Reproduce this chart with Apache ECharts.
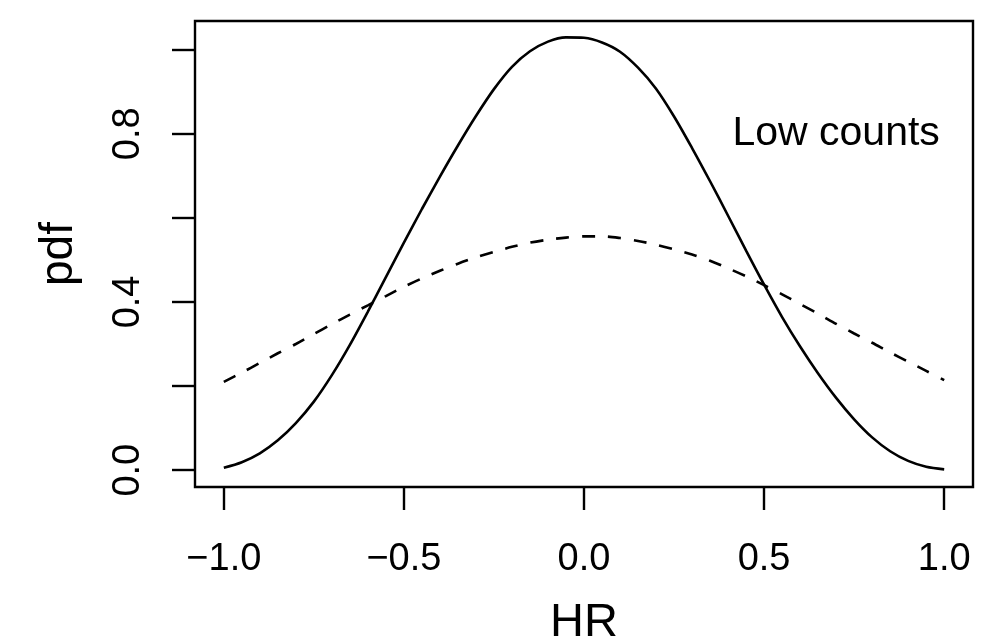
<!DOCTYPE html>
<html>
<head>
<meta charset="utf-8">
<script src="https://cdn.jsdelivr.net/npm/echarts@6/dist/echarts.min.js"></script>
<style>
html,body{margin:0;padding:0;background:#fff;}
#main{width:1004px;height:643px;}
</style>
</head>
<body>
<div id="main"></div>
<script>
// HR grid values (x)
var hrValues = [-1.00,-0.95,-0.90,-0.85,-0.80,-0.75,-0.70,-0.65,-0.60,-0.55,-0.50,-0.45,-0.40,-0.35,-0.30,-0.25,-0.20,-0.15,-0.10,-0.05,
                0.00,0.05,0.10,0.15,0.20,0.25,0.30,0.35,0.40,0.45,0.50,0.55,0.60,0.65,0.70,0.75,0.80,0.85,0.90,0.95,1.00];
// solid curve (pdf)
var solidPdf = [0.006,0.019,0.040,0.071,0.112,0.163,0.226,0.298,0.377,0.459,0.541,0.621,0.698,0.772,0.842,0.906,0.959,0.996,1.019,1.029,
                1.028,1.017,0.995,0.957,0.907,0.841,0.766,0.687,0.605,0.522,0.441,0.364,0.294,0.230,0.172,0.121,0.078,0.045,0.022,0.008,0.002];
// dashed curve (pdf)
var dashedPdf = [0.210,0.232,0.255,0.278,0.300,0.324,0.347,0.370,0.392,0.414,0.436,0.456,0.474,0.491,0.506,0.519,0.531,0.541,0.548,0.553,
                 0.556,0.556,0.552,0.545,0.536,0.525,0.513,0.498,0.480,0.461,0.440,0.418,0.395,0.372,0.348,0.325,0.303,0.280,0.258,0.236,0.214];
// ticks
var xTicks = [-1.0,-0.5,0.0,0.5,1.0];
var yTicks = [0.0,0.2,0.4,0.6,0.8,1.0];
var yLabels = [0.0,0.4,0.8];
var annotation = {x:0.7, y:0.8, text:'Low counts'};

function pairs(xs, ys){ return xs.map(function(x,i){ return [x, ys[i]]; }); }
var FONT = '"Liberation Sans", Arial, Helvetica, sans-serif';

var chart = echarts.init(document.getElementById('main'), null, {renderer:'canvas'});
chart.setOption({
  animation:false,
  backgroundColor:'#ffffff',
  grid:{left:195, right:31, top:21, bottom:156, show:true, borderColor:'#000', borderWidth:2.4,
    backgroundColor:'transparent', containLabel:false, outerBoundsMode:'none'},
  xAxis:{
    type:'value', min:-1.08, max:1.08,
    name:'HR', nameLocation:'middle', nameGap:113,
    nameTextStyle:{fontFamily:FONT, fontSize:47, color:'#000'},
    axisLine:{show:false, onZero:false},
    splitLine:{show:false},
    axisTick:{show:true, inside:false, length:23, customValues:xTicks, lineStyle:{color:'#000', width:2.4}},
    axisLabel:{show:true, margin:54, customValues:xTicks, fontFamily:FONT, fontSize:38, color:'#000',
      formatter:function(v){ return (v<0?'\u2212':'') + Math.abs(v).toFixed(1); }}
  },
  yAxis:{
    type:'value', min:-0.04, max:1.068,
    name:'pdf', nameLocation:'middle', nameGap:113, nameRotate:90,
    nameTextStyle:{fontFamily:FONT, fontSize:46, color:'#000'},
    axisLine:{show:false, onZero:false},
    splitLine:{show:false},
    axisTick:{show:true, inside:false, length:23, customValues:yTicks, lineStyle:{color:'#000', width:2.4}},
    axisLabel:{show:true, rotate:90, margin:47, customValues:yLabels, fontFamily:FONT, fontSize:38, color:'#000',
      formatter:function(v){ return v.toFixed(1); }}
  },
  series:[
    {type:'line', data:pairs(hrValues, solidPdf), smooth:0.3, showSymbol:false, symbol:'none',
      lineStyle:{color:'#000', width:2.6, type:'solid'}, silent:true},
    {type:'line', data:pairs(hrValues, dashedPdf), smooth:0.3, showSymbol:false, symbol:'none',
      lineStyle:{color:'#000', width:2.6, type:[13,13]}, silent:true},
    {type:'scatter', data:[[annotation.x, annotation.y]], symbolSize:0, silent:true,
      itemStyle:{opacity:1, color:'#000'},
      label:{show:true, position:'inside', formatter:annotation.text, fontFamily:FONT, fontSize:41, color:'#000', opacity:1}}
  ]
});
</script>
</body>
</html>
